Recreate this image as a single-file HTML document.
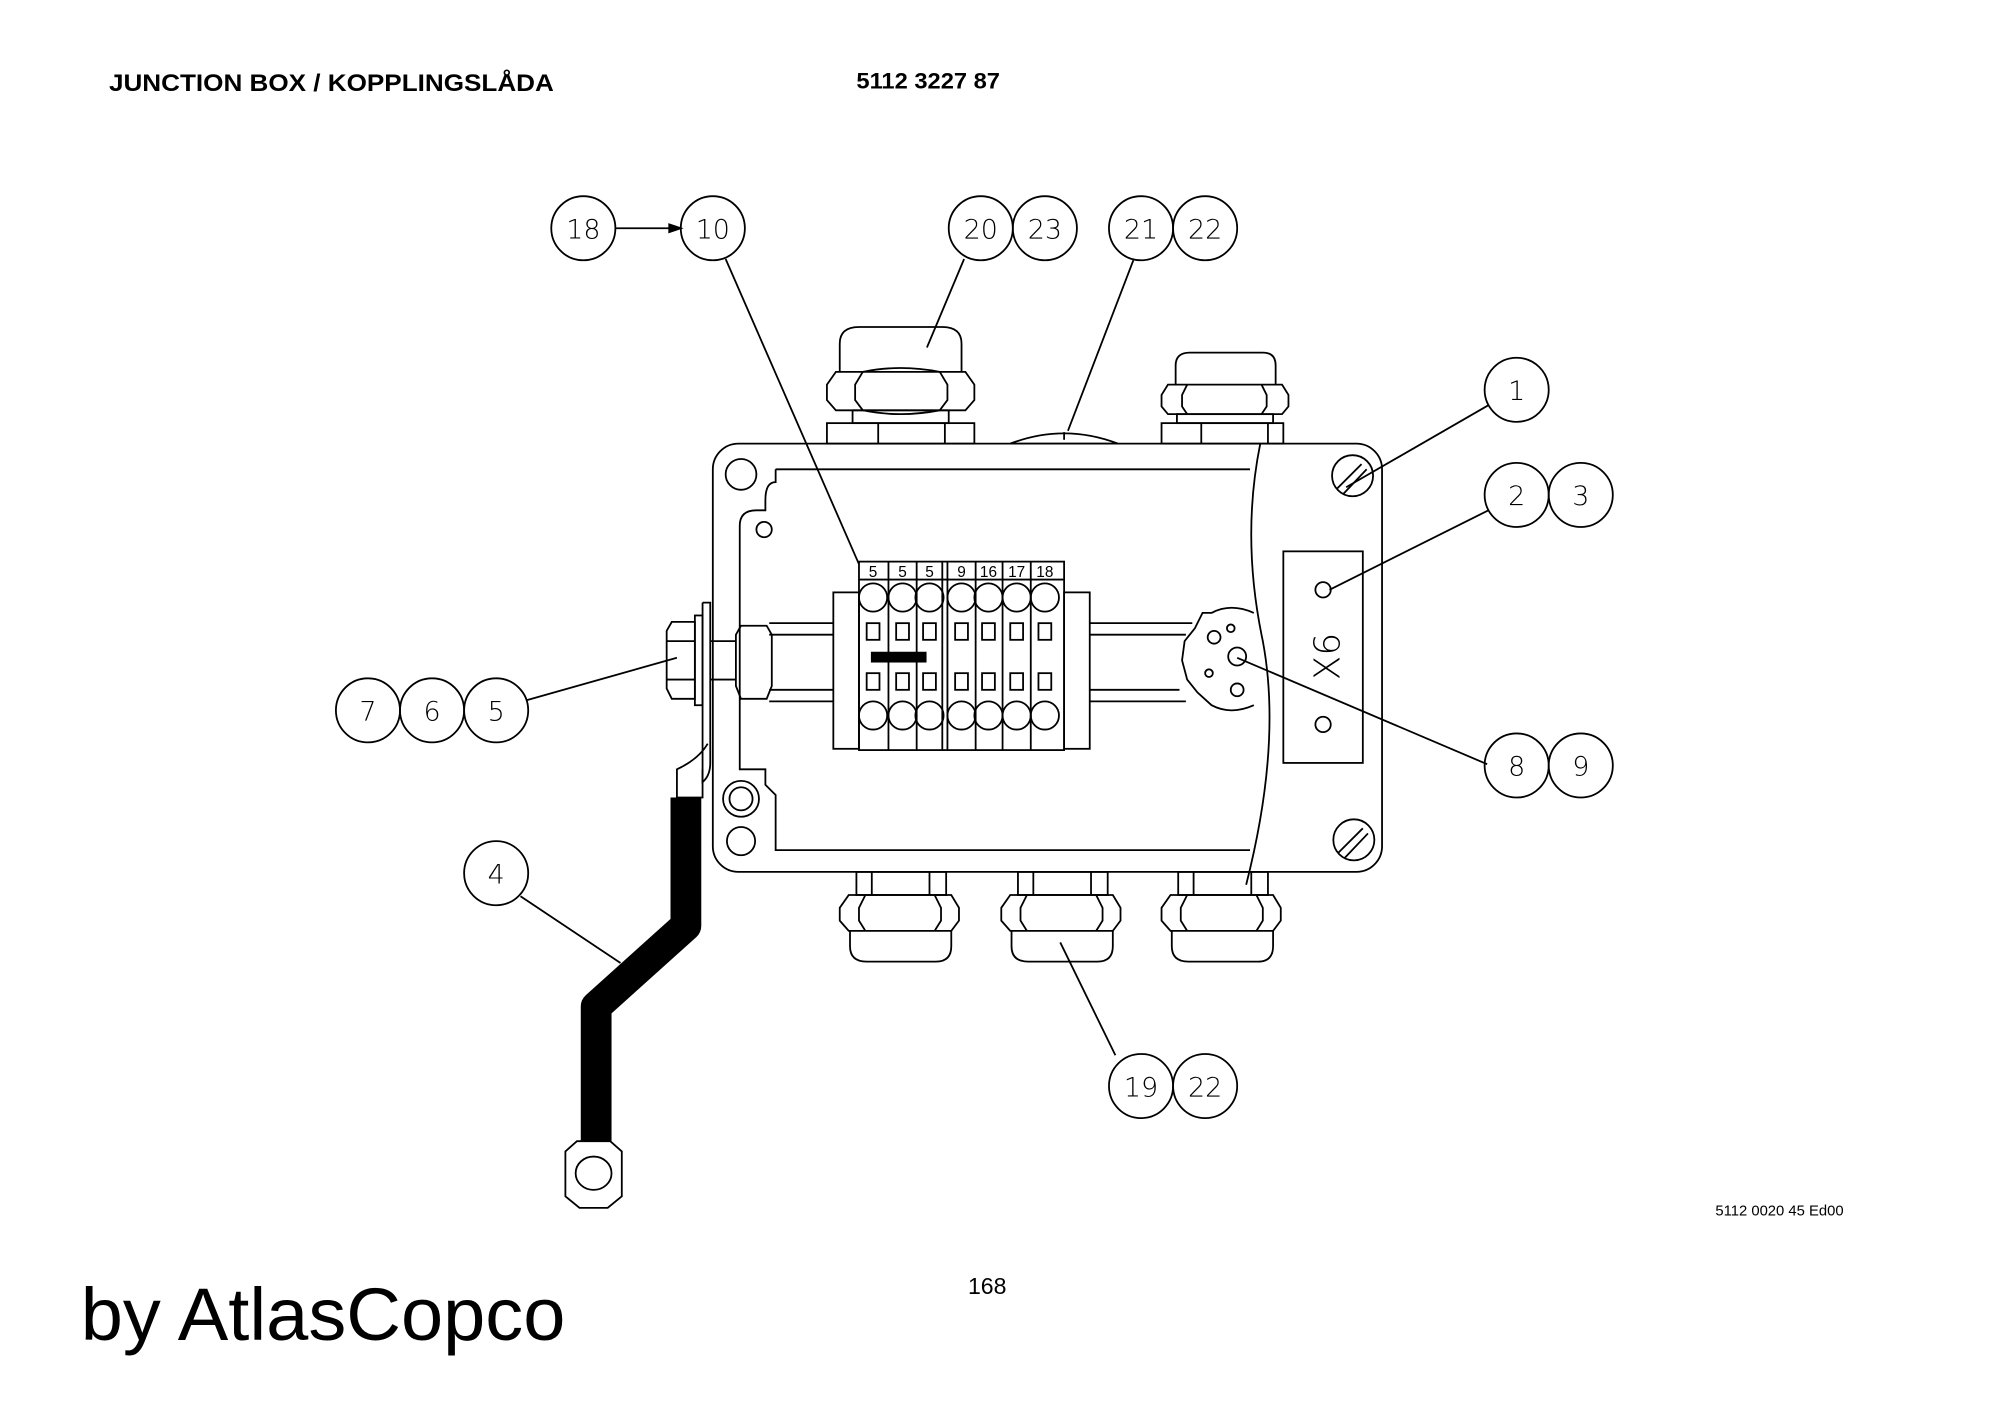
<!DOCTYPE html>
<html><head><meta charset="utf-8"><style>
html,body{margin:0;padding:0;background:#fff}
svg{display:block}
text{font-family:"Liberation Sans",sans-serif}
.n{font-family:"DejaVu Sans","Liberation Sans",sans-serif;font-size:21px;font-weight:200;text-anchor:middle}
</style></head><body>
<svg width="2000" height="1413" viewBox="0 0 1560 1102" preserveAspectRatio="none" xmlns="http://www.w3.org/2000/svg">
<rect width="1560" height="1102" fill="#fff"/>
<text x="85" y="71" font-size="18.5" font-weight="bold" textLength="347" lengthAdjust="spacingAndGlyphs">JUNCTION BOX / KOPPLINGSLÅDA</text>
<text x="668" y="69" font-size="17" font-weight="bold" textLength="112" lengthAdjust="spacingAndGlyphs">5112 3227 87</text>
<text x="1338" y="948" font-size="11.5" textLength="100" lengthAdjust="spacingAndGlyphs">5112 0020 45 Ed00</text>
<text x="755" y="1009" font-size="18">168</text>
<text x="63" y="1045" font-size="58" textLength="378" lengthAdjust="spacingAndGlyphs">by AtlasCopco</text>

<g fill="none" stroke="#000" stroke-width="1.4">
<g>
<circle cx="455" cy="178" r="25"/><circle cx="556" cy="178" r="25"/>
<circle cx="765" cy="178" r="25"/><circle cx="815" cy="178" r="25"/>
<circle cx="890" cy="178" r="25"/><circle cx="940" cy="178" r="25"/>
<circle cx="1183" cy="304" r="25"/>
<circle cx="1183" cy="386" r="25"/><circle cx="1233" cy="386" r="25"/>
<circle cx="1183" cy="597" r="25"/><circle cx="1233" cy="597" r="25"/>
<circle cx="287" cy="554" r="25"/><circle cx="337" cy="554" r="25"/><circle cx="387" cy="554" r="25"/>
<circle cx="387" cy="681" r="25"/>
<circle cx="890" cy="847" r="25"/><circle cx="940" cy="847" r="25"/>
</g>
<line x1="480" y1="178" x2="524" y2="178"/>
<polygon points="531,178 522,175 522,181" fill="#000"/>
<line x1="566" y1="202" x2="670" y2="440"/>
<line x1="752" y1="202" x2="723" y2="271"/>
<line x1="884" y1="203" x2="833" y2="336"/>
<line x1="1161" y1="316" x2="1050" y2="380"/>
<line x1="1161" y1="398" x2="1037" y2="460"/>
<line x1="1160" y1="596" x2="965" y2="513"/>
<line x1="411" y1="546" x2="528" y2="513"/>
<line x1="406" y1="699" x2="484" y2="751"/>
<line x1="870" y1="823" x2="827" y2="735"/>

<path d="M655,290 L655,268 Q655,255 670,255 L735,255 Q750,255 750,268 L750,290"/>
<path d="M645,300 L652,290 L753,290 L760,300 L760,312 L753,320 L652,320 L645,312 Z"/>
<path d="M673,290 Q702,284 733,290 M673,320 Q702,326 733,320 M673,290 L667,300 L667,312 L673,320 M733,290 L739,300 L739,312 L733,320"/>
<rect x="665" y="320" width="75" height="10"/>
<rect x="645" y="330" width="115" height="16"/>
<line x1="685" y1="330" x2="685" y2="346"/><line x1="737" y1="330" x2="737" y2="346"/>
<path d="M917,300 L917,285 Q917,275 928,275 L985,275 Q995,275 995,285 L995,300"/>
<path d="M906,308 L911,300 L1000,300 L1005,308 L1005,317 L1000,323 L911,323 L906,317 Z"/>
<path d="M926,300 L922,308 L922,317 L926,323 M984,300 L988,308 L988,317 L984,323"/>
<rect x="918" y="323" width="75" height="7"/>
<rect x="906" y="330" width="95" height="16"/>
<line x1="937" y1="330" x2="937" y2="346"/><line x1="989" y1="330" x2="989" y2="346"/>
<path d="M788,346 Q830,330 872,346 Z"/><line x1="830" y1="337" x2="830" y2="343"/>

<rect x="556" y="346" width="522" height="334" rx="20"/>
<path d="M605,366 L975,366 M975,663 L605,663 L605,620 L597,612 L597,600 L577,600 L577,410 Q577,398 590,398 L597,398 L597,390 Q597,376 605,376 L605,366"/>
<path d="M983,346 Q968,420 985,500 Q1000,580 972,690"/>
<circle cx="578" cy="370" r="12"/>
<circle cx="596" cy="413" r="6"/>
<circle cx="578" cy="623" r="14"/><circle cx="578" cy="623" r="9"/>
<circle cx="578" cy="656" r="11"/>
<circle cx="1055" cy="371" r="16"/><line x1="1043" y1="381" x2="1062" y2="362"/><line x1="1048" y1="385" x2="1066" y2="366"/>
<circle cx="1056" cy="655" r="16"/><line x1="1044" y1="665" x2="1063" y2="646"/><line x1="1049" y1="669" x2="1067" y2="650"/>
<rect x="1001" y="430" width="62" height="165"/>
<circle cx="1032" cy="460" r="6"/><circle cx="1032" cy="565" r="6"/>
<text x="1045" y="512" transform="rotate(-90 1045 512)" font-size="28" stroke="none" fill="#000" text-anchor="middle" style="font-family:'DejaVu Sans',sans-serif;font-weight:200">X6</text>

<line x1="600" y1="486" x2="650" y2="486"/><line x1="600" y1="495" x2="650" y2="495"/>
<line x1="600" y1="538" x2="650" y2="538"/><line x1="600" y1="547" x2="650" y2="547"/>
<line x1="850" y1="486" x2="930" y2="486"/><line x1="850" y1="495" x2="925" y2="495"/>
<line x1="850" y1="538" x2="920" y2="538"/><line x1="850" y1="547" x2="925" y2="547"/>
<path d="M978,478 Q960,470 945,478 L938,478 L932,490 L924,500 L922,515 L926,530 L934,540 L945,550 Q960,558 978,550"/>
<circle cx="965" cy="512" r="7"/><circle cx="947" cy="497" r="5"/><circle cx="965" cy="538" r="5"/><circle cx="943" cy="525" r="3"/><circle cx="960" cy="490" r="3"/>
<rect x="650" y="462" width="20" height="122"/>
<rect x="830" y="462" width="20" height="122"/>
<rect x="670" y="438" width="160" height="147"/>
<line x1="670" y1="452" x2="830" y2="452"/>
<line x1="693" y1="438" x2="693" y2="585"/><line x1="715" y1="438" x2="715" y2="585"/>
<line x1="735" y1="438" x2="735" y2="585"/><line x1="739" y1="438" x2="739" y2="585"/>
<line x1="761" y1="438" x2="761" y2="585"/><line x1="782" y1="438" x2="782" y2="585"/><line x1="804" y1="438" x2="804" y2="585"/>
<g>
<circle cx="681" cy="466" r="11"/><circle cx="704" cy="466" r="11"/><circle cx="725" cy="466" r="11"/>
<circle cx="750" cy="466" r="11"/><circle cx="771" cy="466" r="11"/><circle cx="793" cy="466" r="11"/><circle cx="815" cy="466" r="11"/>
<circle cx="681" cy="558" r="11"/><circle cx="704" cy="558" r="11"/><circle cx="725" cy="558" r="11"/>
<circle cx="750" cy="558" r="11"/><circle cx="771" cy="558" r="11"/><circle cx="793" cy="558" r="11"/><circle cx="815" cy="558" r="11"/>
<rect x="676" y="486" width="10" height="13"/><rect x="699" y="486" width="10" height="13"/><rect x="720" y="486" width="10" height="13"/>
<rect x="745" y="486" width="10" height="13"/><rect x="766" y="486" width="10" height="13"/><rect x="788" y="486" width="10" height="13"/><rect x="810" y="486" width="10" height="13"/>
<rect x="676" y="525" width="10" height="13"/><rect x="699" y="525" width="10" height="13"/><rect x="720" y="525" width="10" height="13"/>
<rect x="745" y="525" width="10" height="13"/><rect x="766" y="525" width="10" height="13"/><rect x="788" y="525" width="10" height="13"/><rect x="810" y="525" width="10" height="13"/>
</g>
<rect x="680" y="509" width="42" height="7" fill="#000"/>
<g stroke="none" fill="#000" font-size="12" text-anchor="middle">
<text x="681" y="450">5</text><text x="704" y="450">5</text><text x="725" y="450">5</text>
<text x="750" y="450">9</text><text x="771" y="450">16</text><text x="793" y="450">17</text><text x="815" y="450">18</text>
</g>
<path d="M524,485 L520,492 L520,537 L524,545 L542,545 L542,485 Z"/>
<line x1="520" y1="500" x2="542" y2="500"/><line x1="520" y1="530" x2="542" y2="530"/>
<rect x="542" y="480" width="6" height="70"/>
<path d="M548,470 L554,470 L554,595 Q554,605 548,610 L548,470"/>
<path d="M578,488 L574,495 L574,535 L578,545 L598,545 L602,535 L602,495 L598,488 Z"/>
<line x1="554" y1="500" x2="574" y2="500"/><line x1="554" y1="530" x2="574" y2="530"/>
<path d="M552,580 Q545,592 528,600 L528,622 L548,622 L548,600"/>
<g id="g1">
<rect x="668" y="680" width="70" height="18"/>
<line x1="680" y1="680" x2="680" y2="698"/><line x1="725" y1="680" x2="725" y2="698"/>
<path d="M655,708 L662,698 L742,698 L748,708 L748,718 L742,726 L662,726 L655,718 Z"/>
<path d="M675,698 L670,708 L670,718 L675,726 M729,698 L734,708 L734,718 L729,726"/>
<path d="M663,726 L663,738 Q663,750 676,750 L730,750 Q742,750 742,738 L742,726"/>
</g>
<use href="#g1" x="126"/>
<use href="#g1" x="251"/>
<path d="M535,622 L535,722 L465,785 L465,890" stroke-width="24" stroke-linejoin="round"/>
<path d="M450,890 L476,890 L485,898 L485,933 L474,942 L452,942 L441,933 L441,898 Z" fill="#fff"/>
<ellipse cx="463" cy="915" rx="14" ry="13"/>
</g>
<g fill="#000" stroke="none">
<text class="n" x="455" y="186">18</text><text class="n" x="556" y="186">10</text>
<text class="n" x="765" y="186">20</text><text class="n" x="815" y="186">23</text>
<text class="n" x="890" y="186">21</text><text class="n" x="940" y="186">22</text>
<text class="n" x="1183" y="312">1</text>
<text class="n" x="1183" y="394">2</text><text class="n" x="1233" y="394">3</text>
<text class="n" x="1183" y="605">8</text><text class="n" x="1233" y="605">9</text>
<text class="n" x="287" y="562">7</text><text class="n" x="337" y="562">6</text><text class="n" x="387" y="562">5</text>
<text class="n" x="387" y="689">4</text>
<text class="n" x="890" y="855">19</text><text class="n" x="940" y="855">22</text>
</g>
</svg>
</body></html>
